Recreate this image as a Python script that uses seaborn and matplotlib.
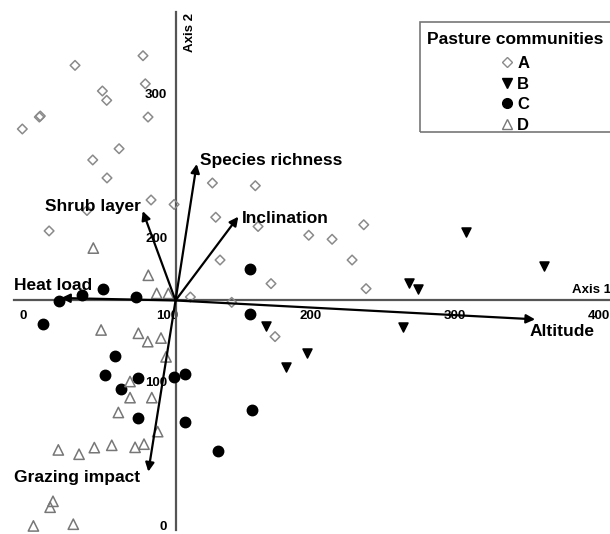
import matplotlib.pyplot as plt
from matplotlib.lines import Line2D
from matplotlib.patches import Rectangle
import seaborn as sns
import pandas as pd

# site scores on the two ordination axes, per pasture community
a_axis1 = [83.3, 36.1, 84.9, 55.1, 58.1, 11.3, 12.0, 86.8, -0.5, 66.7, 48.4, 58.3, 88.9, 104.9, 44.4,
           18.1, 131.5, 161.3, 133.8, 163.2, 198.4, 214.6, 236.6, 228.5, 136.8, 172.2, 238.2, 116.2,
           144.9, 175.0]
a_axis2 = [326.4, 319.7, 306.9, 301.9, 295.4, 283.8, 284.5, 283.8, 275.5, 261.8, 254.0, 241.5, 226.2,
           223.1, 218.9, 204.7, 238.0, 236.1, 214.2, 207.8, 201.7, 198.9, 209.0, 184.5, 184.5, 168.1,
           164.6, 158.8, 155.1, 131.3]

b_axis1 = [307.6, 362.0, 268.3, 274.5, 263.7, 197.0, 168.5, 182.3]
b_axis2 = [203.8, 180.0, 168.3, 164.2, 138.2, 119.9, 138.7, 110.2]

c_axis1 = [157.6, 55.3, 41.2, 25.0, 78.7, 157.6, 13.7, 63.9, 56.9, 79.7, 68.1, 104.9, 112.5, 79.7,
           112.5, 159.0, 135.6]
c_axis2 = [178.1, 164.4, 160.2, 156.0, 158.6, 146.8, 140.4, 117.8, 104.7, 102.6, 94.7, 103.3, 105.1,
           74.6, 71.7, 80.0, 52.1]

d_axis1 = [48.8, 87.0, 92.8, 100.9, 54.2, 80.1, 86.6, 95.8, 99.3, 74.3, 74.3, 89.4, 66.2, 93.5, 24.5,
           38.9, 49.5, 61.6, 77.8, 84.0, 20.8, 18.8, 7.2, 34.9]
d_axis2 = [192.8, 173.9, 161.3, 161.3, 135.9, 133.6, 127.8, 130.3, 117.2, 100.1, 88.9, 88.9, 78.6,
           65.3, 52.6, 49.6, 54.2, 55.8, 54.4, 56.6, 16.9, 12.8, -0.2, 1.0]

# environmental vectors (from the centroid to the arrow tip)
centroid = (105.9, 156.4)
vector_names = ['Species richness', 'Inclination', 'Shrub layer', 'Heat load', 'Altitude', 'Grazing impact']
vector_axis1 = [120.6, 149.5, 83.1, 26.4, 355.6, 87.0]
vector_axis2 = [251.2, 214.6, 218.5, 158.1, 143.3, 37.5]

communities = ['A', 'B', 'C', 'D']

sites = pd.concat([
    pd.DataFrame({'axis1': a_axis1, 'axis2': a_axis2, 'community': 'A'}),
    pd.DataFrame({'axis1': b_axis1, 'axis2': b_axis2, 'community': 'B'}),
    pd.DataFrame({'axis1': c_axis1, 'axis2': c_axis2, 'community': 'C'}),
    pd.DataFrame({'axis1': d_axis1, 'axis2': d_axis2, 'community': 'D'}),
], ignore_index=True)

sns.set_style('white')
plt.rcParams['font.family'] = ['Liberation Sans', 'DejaVu Sans']
plt.rcParams['font.weight'] = 'bold'
plt.rcParams['text.color'] = 'black'

styles = {
    'A': dict(marker='D', s=24, face='none', edge='#8a8a8a'),
    'B': dict(marker='v', s=42, face='black', edge='black'),
    'C': dict(marker='o', s=55, face='black', edge='black'),
    'D': dict(marker='^', s=55, face='none', edge='#777777'),
}

fig = plt.figure(figsize=(6.1, 5.34), dpi=100)
ax = fig.add_axes([0, 0, 1, 1])

for com in communities:
    st = styles[com]
    sns.scatterplot(data=sites[sites.community == com], x='axis1', y='axis2', ax=ax,
                    marker=st['marker'], s=st['s'], color='white', edgecolor=st['edge'],
                    linewidth=1.1, zorder=3)
    ax.collections[-1].set_facecolor(st['face'])

# arrows
for name, x1, y1 in zip(vector_names, vector_axis1, vector_axis2):
    ax.annotate('', xy=(x1, y1), xytext=centroid,
                arrowprops=dict(arrowstyle='-|>', color='black', lw=1.6, mutation_scale=13,
                                shrinkA=0, shrinkB=0), zorder=4)

label_pos = {
    'Species richness': (122.9, 250.5, 'left'),
    'Inclination': (151.9, 210.4, 'left'),
    'Shrub layer': (82.0, 218.8, 'right'),
    'Heat load': (-6.2, 163.7, 'left'),
    'Altitude': (351.6, 131.7, 'left'),
    'Grazing impact': (-6.2, 30.6, 'left'),
}
for name in vector_names:
    lx, ly, ha = label_pos[name]
    ax.text(lx, ly, name, ha=ha, va='baseline', fontsize=12.5, fontweight='bold', color='black',
            zorder=5)

# axes crossing at the centroid
ax.set_xlim(-16.0, 407.6)
ax.set_ylim(-5.8, 365.1)
for side in ['top', 'right']:
    ax.spines[side].set_visible(False)
ax.spines['left'].set_position(('data', centroid[0]))
ax.spines['bottom'].set_position(('data', centroid[1]))
ax.spines['left'].set_bounds(-3, 357)
ax.spines['bottom'].set_bounds(-6.3, 410)
for side in ['left', 'bottom']:
    ax.spines[side].set_color('#555555')
    ax.spines[side].set_linewidth(1.6)

ax.set_xticks([0, 100, 200, 300, 400])
ax.set_xticks([50, 150, 250, 350], minor=True)
ax.set_yticks([0, 100, 200, 300])
ax.set_yticks([50, 250, 350], minor=True)
ax.tick_params(which='both', direction='out', length=3, width=1, color='#555555', labelcolor='black')
ax.tick_params(axis='x', pad=4)
ax.tick_params(axis='y', pad=3)
for lab in ax.get_xticklabels() + ax.get_yticklabels():
    lab.set_fontsize(9.5)
    lab.set_fontweight('bold')
ax.set_xlabel('')
ax.set_ylabel('')

ax.text(381.3, 161.4, 'Axis 1', ha='left', va='baseline', fontsize=9.5, fontweight='bold')
ax.text(116.0, 342.8, 'Axis 2', ha='center', va='center', rotation=90, fontsize=9.5,
        fontweight='bold')

# legend (frame drawn separately)
handles = []
for com in communities:
    st = styles[com]
    handles.append(Line2D([], [], linestyle='none', marker=st['marker'], markersize=7 if com != 'A' else 5.5,
                          markerfacecolor=st['face'], markeredgecolor=st['edge'], markeredgewidth=1.0,
                          label=com))
leg = ax.legend(handles=handles, title='Pasture communities', loc='upper center',
                bbox_to_anchor=(515 / 610, 1 - 32 / 534), bbox_transform=fig.transFigure,
                fontsize=12, title_fontproperties={'weight': 'bold', 'size': 12.5},
                frameon=False, borderpad=0, handlelength=0.8,
                handletextpad=0.2, labelspacing=0.33, borderaxespad=0)
leg._legend_box.sep = 6.5
fig.add_artist(Rectangle((420 / 610, 1 - 132 / 534), 195 / 610, 110 / 534, transform=fig.transFigure,
                         fill=False, edgecolor='#777777', linewidth=1.2))

fig.savefig('out.png', dpi=100)
